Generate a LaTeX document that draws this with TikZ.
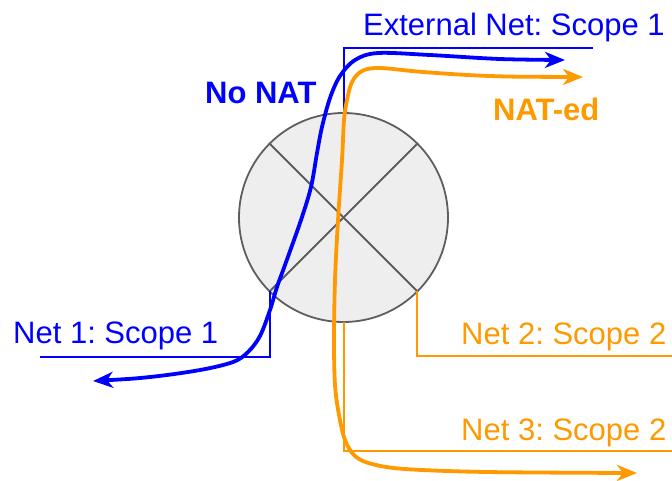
\documentclass[tikz,border=0pt]{standalone}
\usepackage{fontspec}
\setmainfont{Liberation Sans}
\usetikzlibrary{arrows.meta}
\definecolor{netblue}{HTML}{0000FF}
\definecolor{netorange}{HTML}{FF9900}
\definecolor{boxfill}{HTML}{EEEEEE}
\definecolor{boxline}{HTML}{5E5E5E}
\frenchspacing
\begin{document}
\begin{tikzpicture}[x=1pt,y=-1pt,
  router/.style={circle,draw=boxline,fill=boxfill,line width=1.8pt,minimum size=209pt,inner sep=0pt,outer sep=0pt},
  cross/.style={draw=boxline,line width=1.8pt},
  netline/.style={line width=2pt},
  flow/.style={line width=3.8pt,line cap=round,line join=round,
    {Stealth[length=20pt,width=16pt,inset=6pt]}-{Stealth[length=20pt,width=16pt,inset=6pt]}},
  lbl/.style={anchor=base west,inner sep=0pt,font=\fontsize{31}{37}\selectfont}
]
\useasboundingbox (0,0) rectangle (672,480);

% the NAT box
\node[router] (nat) at (343.5,217.5) {};
\draw[cross] (nat.135) -- (nat.-45);
\draw[cross] (nat.45) -- (nat.-135);

% network attachment lines
\coordinate (n1end) at (40,357);
\coordinate (extend) at (593,48);
\coordinate (n2end) at (672,356);
\coordinate (n3end) at (672,451);
\draw[netline,draw=netblue] (nat.-135) |- (n1end);
\draw[netline,draw=netblue] (nat.north) |- (extend);
\draw[netline,draw=netorange] (nat.-45) |- (n2end);
\draw[netline,draw=netorange] (nat.south) |- (n3end);

% network labels
\node[lbl,text=netblue] (ext) at (363,35) {External Net: Scope 1};
\node[lbl,text=netblue] (net1) at (13,343) {Net 1: Scope 1};
\node[lbl,text=netorange] (net2) at (461,344) {Net 2: Scope 2};
\node[lbl,text=netorange] (net3) at (461,440) {Net 3: Scope 2};
\node[lbl,text=netblue,font=\fontsize{31}{37}\selectfont\bfseries] (nonat) at (205,103) {No NAT};
\node[lbl,text=netorange,font=\fontsize{31}{37}\selectfont\bfseries] (nated) at (493,120) {NAT-ed};

% traffic flows
\coordinate (bA) at (93,381);
\coordinate (bB) at (565,60);
\coordinate (oA) at (583,77);
\coordinate (oB) at (637,473);
\draw[flow,netblue] plot[smooth,tension=0.55] coordinates {
  (bA) (150,377) (200,370) (233,362) (248,352) (260,336) (270,310)
  (277,287) (285,265) (301,220) (311,187) (317,153) (322,127)
  (330,98) (340,76) (355,60) (378,53) (430,55) (500,59) (bB)};
\draw[flow,netorange] plot[smooth,tension=0.55] coordinates {
  (oA) (490,76) (423,72) (380,68) (362,71) (352,82) (347,100)
  (344,120) (342,160) (338,220) (335,280) (334,340) (335,385)
  (339,415) (345,440) (355,456) (372,464) (405,469) (487,472) (oB)};
\end{tikzpicture}
\end{document}
